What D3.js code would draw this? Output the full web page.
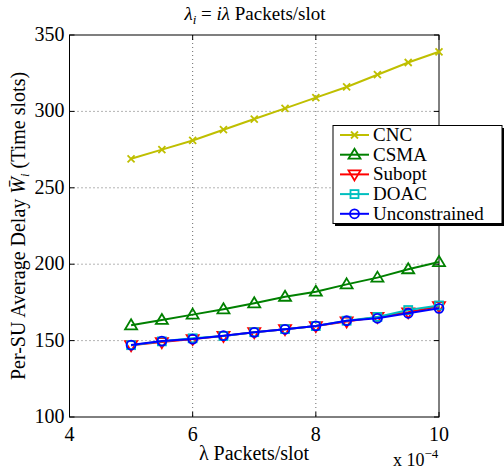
<!DOCTYPE html>
<html>
<head>
<meta charset="utf-8">
<script src="https://cdn.jsdelivr.net/npm/d3@7"></script>
</head>
<body>
<svg id="svg" width="504" height="470" style="position:absolute;left:0;top:0">
  <text x="255" y="20" text-anchor="middle" font-family="serif" font-size="19"><tspan font-style="italic">λ</tspan><tspan font-style="italic" font-size="13" dy="4">i</tspan><tspan dy="-4"> = </tspan><tspan font-style="italic">iλ</tspan><tspan> Packets/slot</tspan></text>
</svg>
<script>
// data (x in units of 1e-4 packets/slot)
const lambda = [5, 5.5, 6, 6.5, 7, 7.5, 8, 8.5, 9, 9.5, 10];
const cnc = [269, 275, 281, 288, 295, 302, 309, 316, 324, 332, 339];
const csma = [160, 163.5, 167, 170.5, 174.4, 178.7, 182, 186.8, 191.2, 196.7, 201.4];
const subopt = [147, 149, 151, 153, 155.5, 157.5, 159.5, 162.5, 165.5, 168.5, 172.5];
const doac = [147, 149.5, 151.5, 153, 155.5, 157.5, 159.5, 163, 165.5, 170, 173];
const uncons = [147.1, 149.7, 151, 153.2, 155.4, 157.4, 159.6, 163, 164.6, 167.9, 171.1];
const xTicks = [4, 6, 8, 10];
const yTicks = [100, 150, 200, 250, 300, 350];

const series = [
  { name: 'CNC', values: cnc, color: '#bfbf00', marker: 'x' },
  { name: 'CSMA', values: csma, color: '#008000', marker: 'tri' },
  { name: 'Subopt', values: subopt, color: '#ff0000', marker: 'tridown' },
  { name: 'DOAC', values: doac, color: '#00bfbf', marker: 'square' },
  { name: 'Unconstrained', values: uncons, color: '#0000ff', marker: 'circle' }
];

const FONT = 'serif';
const svg = d3.select('#svg');
const L = 69.5, R = 439, T = 35, B = 417;
const x = d3.scaleLinear().domain([4, 10]).range([L, R]);
const y = d3.scaleLinear().domain([100, 350]).range([B, T]);

function txt(px, py, size) {
  return svg.append('text').attr('x', px).attr('y', py).attr('font-size', size)
    .attr('font-family', FONT);
}

// grid
const grid = svg.append('g').attr('stroke', '#444').attr('stroke-width', 0.8)
  .attr('stroke-dasharray', '1,3');
xTicks.slice(1, -1).forEach(t => {
  grid.append('line').attr('x1', x(t)).attr('x2', x(t)).attr('y1', T).attr('y2', B);
});
yTicks.slice(1, -1).forEach(t => {
  grid.append('line').attr('x1', L).attr('x2', R).attr('y1', y(t)).attr('y2', y(t));
});

// axes (ticks inward, box)
const ax = svg.append('g').attr('stroke', '#000').attr('stroke-width', 1);
ax.append('rect').attr('x', L).attr('y', T).attr('width', R - L).attr('height', B - T)
  .attr('fill', 'none');
xTicks.forEach(t => {
  ax.append('line').attr('x1', x(t)).attr('x2', x(t)).attr('y1', B).attr('y2', B - 5);
  ax.append('line').attr('x1', x(t)).attr('x2', x(t)).attr('y1', T).attr('y2', T + 5);
  txt(x(t), 441, 20).attr('text-anchor', 'middle').text(t);
});
yTicks.forEach(t => {
  ax.append('line').attr('x1', L).attr('x2', L + 5).attr('y1', y(t)).attr('y2', y(t));
  ax.append('line').attr('x1', R).attr('x2', R - 5).attr('y1', y(t)).attr('y2', y(t));
  txt(L - 5, y(t) + 6, 20).attr('text-anchor', 'end').text(t);
});

// markers
function drawMarker(g, kind, cx, cy, color) {
  const s = 5;
  if (kind === 'x') {
    g.append('path').attr('d', `M${cx - 3.5},${cy - 3.5}L${cx + 3.5},${cy + 3.5}M${cx - 3.5},${cy + 3.5}L${cx + 3.5},${cy - 3.5}`)
      .attr('stroke', color).attr('stroke-width', 1.8);
  } else if (kind === 'tri') {
    g.append('path').attr('d', `M${cx},${cy - s - 1}L${cx + s + 1},${cy + s - 1}L${cx - s - 1},${cy + s - 1}Z`)
      .attr('fill', 'none').attr('stroke', color).attr('stroke-width', 1.8);
  } else if (kind === 'tridown') {
    g.append('path').attr('d', `M${cx},${cy + s + 1}L${cx + s + 1},${cy - s + 1}L${cx - s - 1},${cy - s + 1}Z`)
      .attr('fill', 'none').attr('stroke', color).attr('stroke-width', 1.8);
  } else if (kind === 'square') {
    g.append('rect').attr('x', cx - 4).attr('y', cy - 4).attr('width', 8).attr('height', 8)
      .attr('fill', 'none').attr('stroke', color).attr('stroke-width', 1.8);
  } else {
    g.append('circle').attr('cx', cx).attr('cy', cy).attr('r', 4.5)
      .attr('fill', 'none').attr('stroke', color).attr('stroke-width', 1.8);
  }
}

const line = d3.line().x(d => x(d[0])).y(d => y(d[1]));
series.forEach(s => {
  const pts = lambda.map((l, i) => [l, s.values[i]]);
  const g = svg.append('g');
  g.append('path').attr('d', line(pts)).attr('fill', 'none')
    .attr('stroke', s.color).attr('stroke-width', 2);
  pts.forEach(p => drawMarker(g, s.marker, x(p[0]), y(p[1]), s.color));
});

// axis labels
const xl = txt(254, 460, 20).attr('text-anchor', 'middle');
xl.append('tspan').text('λ');
xl.append('tspan').text(' Packets/slot');

const ex = txt(393, 466, 18);
ex.append('tspan').text('x 10');
ex.append('tspan').attr('font-size', 13).attr('dy', -8).text('−4');

const yl = svg.append('text').attr('transform', 'translate(25,226) rotate(-90)')
  .attr('text-anchor', 'middle').attr('font-size', 20).attr('font-family', FONT);
yl.append('tspan').text('Per-SU Average Delay ');
yl.append('tspan').attr('font-style', 'italic').text('W̄');
yl.append('tspan').attr('font-style', 'italic').attr('font-size', 13).attr('dy', 4).text('i');
yl.append('tspan').attr('dy', -4).text(' (Time slots)');

// legend
const lg = svg.append('g');
lg.append('rect').attr('x', 335).attr('y', 128).attr('width', 169).attr('height', 98)
  .attr('fill', '#000');
lg.append('rect').attr('x', 333).attr('y', 125.5).attr('width', 169).attr('height', 98)
  .attr('fill', '#fff').attr('stroke', '#000').attr('stroke-width', 1);
series.forEach((s, i) => {
  const cy = 135 + i * 19.7;
  lg.append('line').attr('x1', 340).attr('x2', 369).attr('y1', cy).attr('y2', cy)
    .attr('stroke', s.color).attr('stroke-width', 2);
  drawMarker(lg, s.marker, 354.5, cy, s.color);
  lg.append('text').attr('x', 373).attr('y', cy + 6).attr('font-size', 19)
    .attr('font-family', FONT).text(s.name);
});
</script>
</body>
</html>
